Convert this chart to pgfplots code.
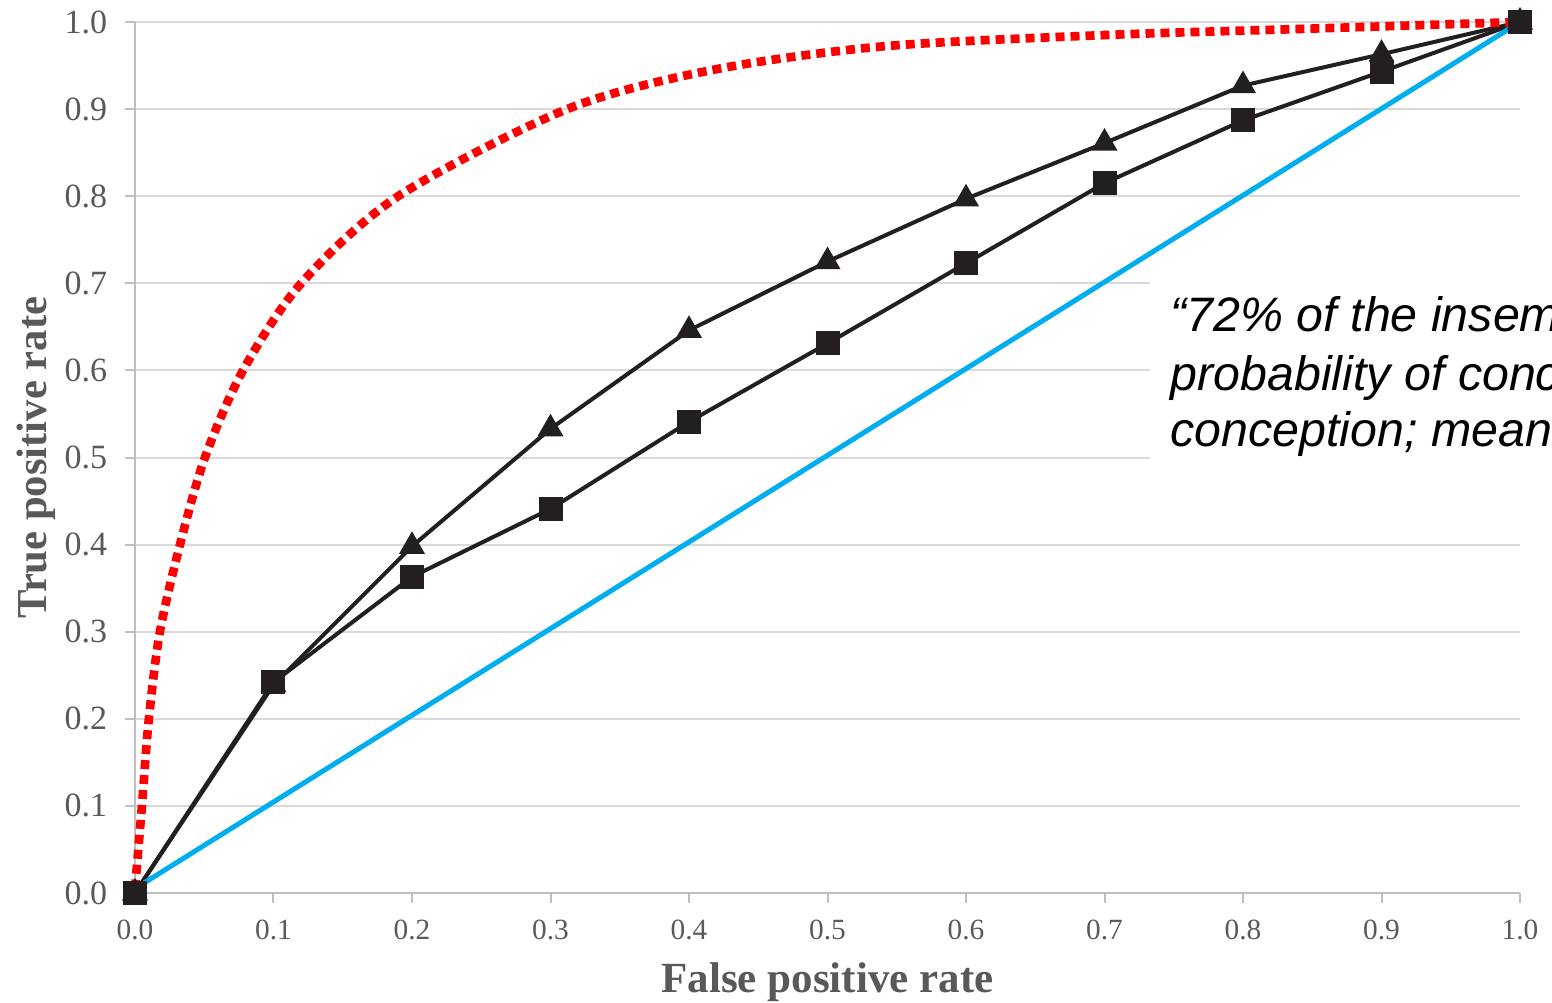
\documentclass[border=0pt]{standalone}
\usepackage{fontspec}
\setmainfont{Liberation Serif}
\newfontfamily\annfont{Liberation Sans}
\usepackage{pgfplots}
\pgfplotsset{compat=1.18}
\definecolor{gridc}{HTML}{D9D9D9}
\definecolor{axc}{HTML}{BFBFBF}
\definecolor{txtc}{HTML}{595959}
\definecolor{serc}{HTML}{231F20}
\definecolor{bluec}{HTML}{00AEEF}
\begin{document}
\begin{tikzpicture}
\begin{axis}[
  at={(0pt,0pt)}, anchor=south west,
  scale only axis, width=415.5pt, height=261.3pt,
  xmin=0, xmax=1, ymin=0, ymax=1,
  clip=false,
  axis x line=bottom, axis y line=left,
  axis line style={draw=axc, line width=0.6pt, -},
  xtick={0,0.1,0.2,0.3,0.4,0.5,0.6,0.7,0.8,0.9,1},
  ytick={0,0.1,0.2,0.3,0.4,0.5,0.6,0.7,0.8,0.9,1},
  xticklabels={0.0,0.1,0.2,0.3,0.4,0.5,0.6,0.7,0.8,0.9,1.0},
  yticklabels={0.0,0.1,0.2,0.3,0.4,0.5,0.6,0.7,0.8,0.9,1.0},
  tick align=outside, major tick length=3pt,
  tick style={draw=axc, line width=0.6pt},
  ymajorgrids, grid style={draw=gridc, line width=0.6pt},
  xticklabel style={font=\fontsize{8.8}{10}\selectfont, text=txtc, yshift=-1.5pt},
  yticklabel style={font=\fontsize{10.2}{12}\selectfont, text=txtc, xshift=-1.8pt},
  xlabel={False positive rate},
  ylabel={True positive rate},
  xlabel style={at={(rel axis cs:0.5,-0.1137)}, anchor=base, inner sep=0pt,
    font=\bfseries\fontsize{12.9}{15}\selectfont, text=txtc},
  ylabel style={at={(rel axis cs:-0.064,0.5)}, anchor=base, rotate=0, inner sep=0pt,
    font=\bfseries\fontsize{12.8}{15}\selectfont, text=txtc},
]
\addplot[serc, line width=1.2pt, mark=triangle*, mark size=3.3pt, mark options={solid}] coordinates {
  (0,0) (0.1,0.239) (0.2,0.398) (0.3,0.533) (0.4,0.646) (0.5,0.725)
  (0.6,0.797) (0.7,0.861) (0.8,0.927) (0.9,0.963) (1,1)
};
\addplot[serc, line width=1.2pt, mark=square*, mark size=3pt, mark options={solid}] coordinates {
  (0,0) (0.1,0.242) (0.2,0.363) (0.3,0.441) (0.4,0.541) (0.5,0.631)
  (0.6,0.723) (0.7,0.815) (0.8,0.887) (0.9,0.943) (1,1)
};
\addplot[bluec, line width=1.5pt] coordinates {(0,0.005) (1,1)};
\addplot[red, line width=2.6pt, dash pattern=on 2.7pt off 1.8pt, smooth, tension=0.5] coordinates {
  (0,0.005) (0.005,0.1) (0.010,0.2) (0.018,0.3) (0.0325,0.4) (0.0505,0.5)
  (0.078,0.6) (0.12,0.7) (0.19,0.8) (0.312,0.9) (0.417,0.945)
  (0.54,0.972) (0.7,0.985) (0.841,0.992) (1,1)
};
\fill[white] (axis cs:0.733,0.72) rectangle (axis cs:1.08,0.49);
\node[anchor=base west, inner sep=0pt, font=\annfont\itshape\fontsize{14.5}{17.25}\selectfont]
  at (axis cs:0.7473,0.6444) {“72\% of the inseminations had a};
\node[anchor=base west, inner sep=0pt, font=\annfont\itshape\fontsize{14.5}{17.25}\selectfont]
  at (axis cs:0.7473,0.5775) {probability of conception};
\node[anchor=base west, inner sep=0pt, font=\annfont\itshape\fontsize{14.5}{17.25}\selectfont]
  at (axis cs:0.7473,0.5124) {conception; mean probability};
\end{axis}
\pgfresetboundingbox
\path[use as bounding box] (-40.5pt,-32.7pt) rectangle (425.1pt,267.9pt);
\end{tikzpicture}
\end{document}
